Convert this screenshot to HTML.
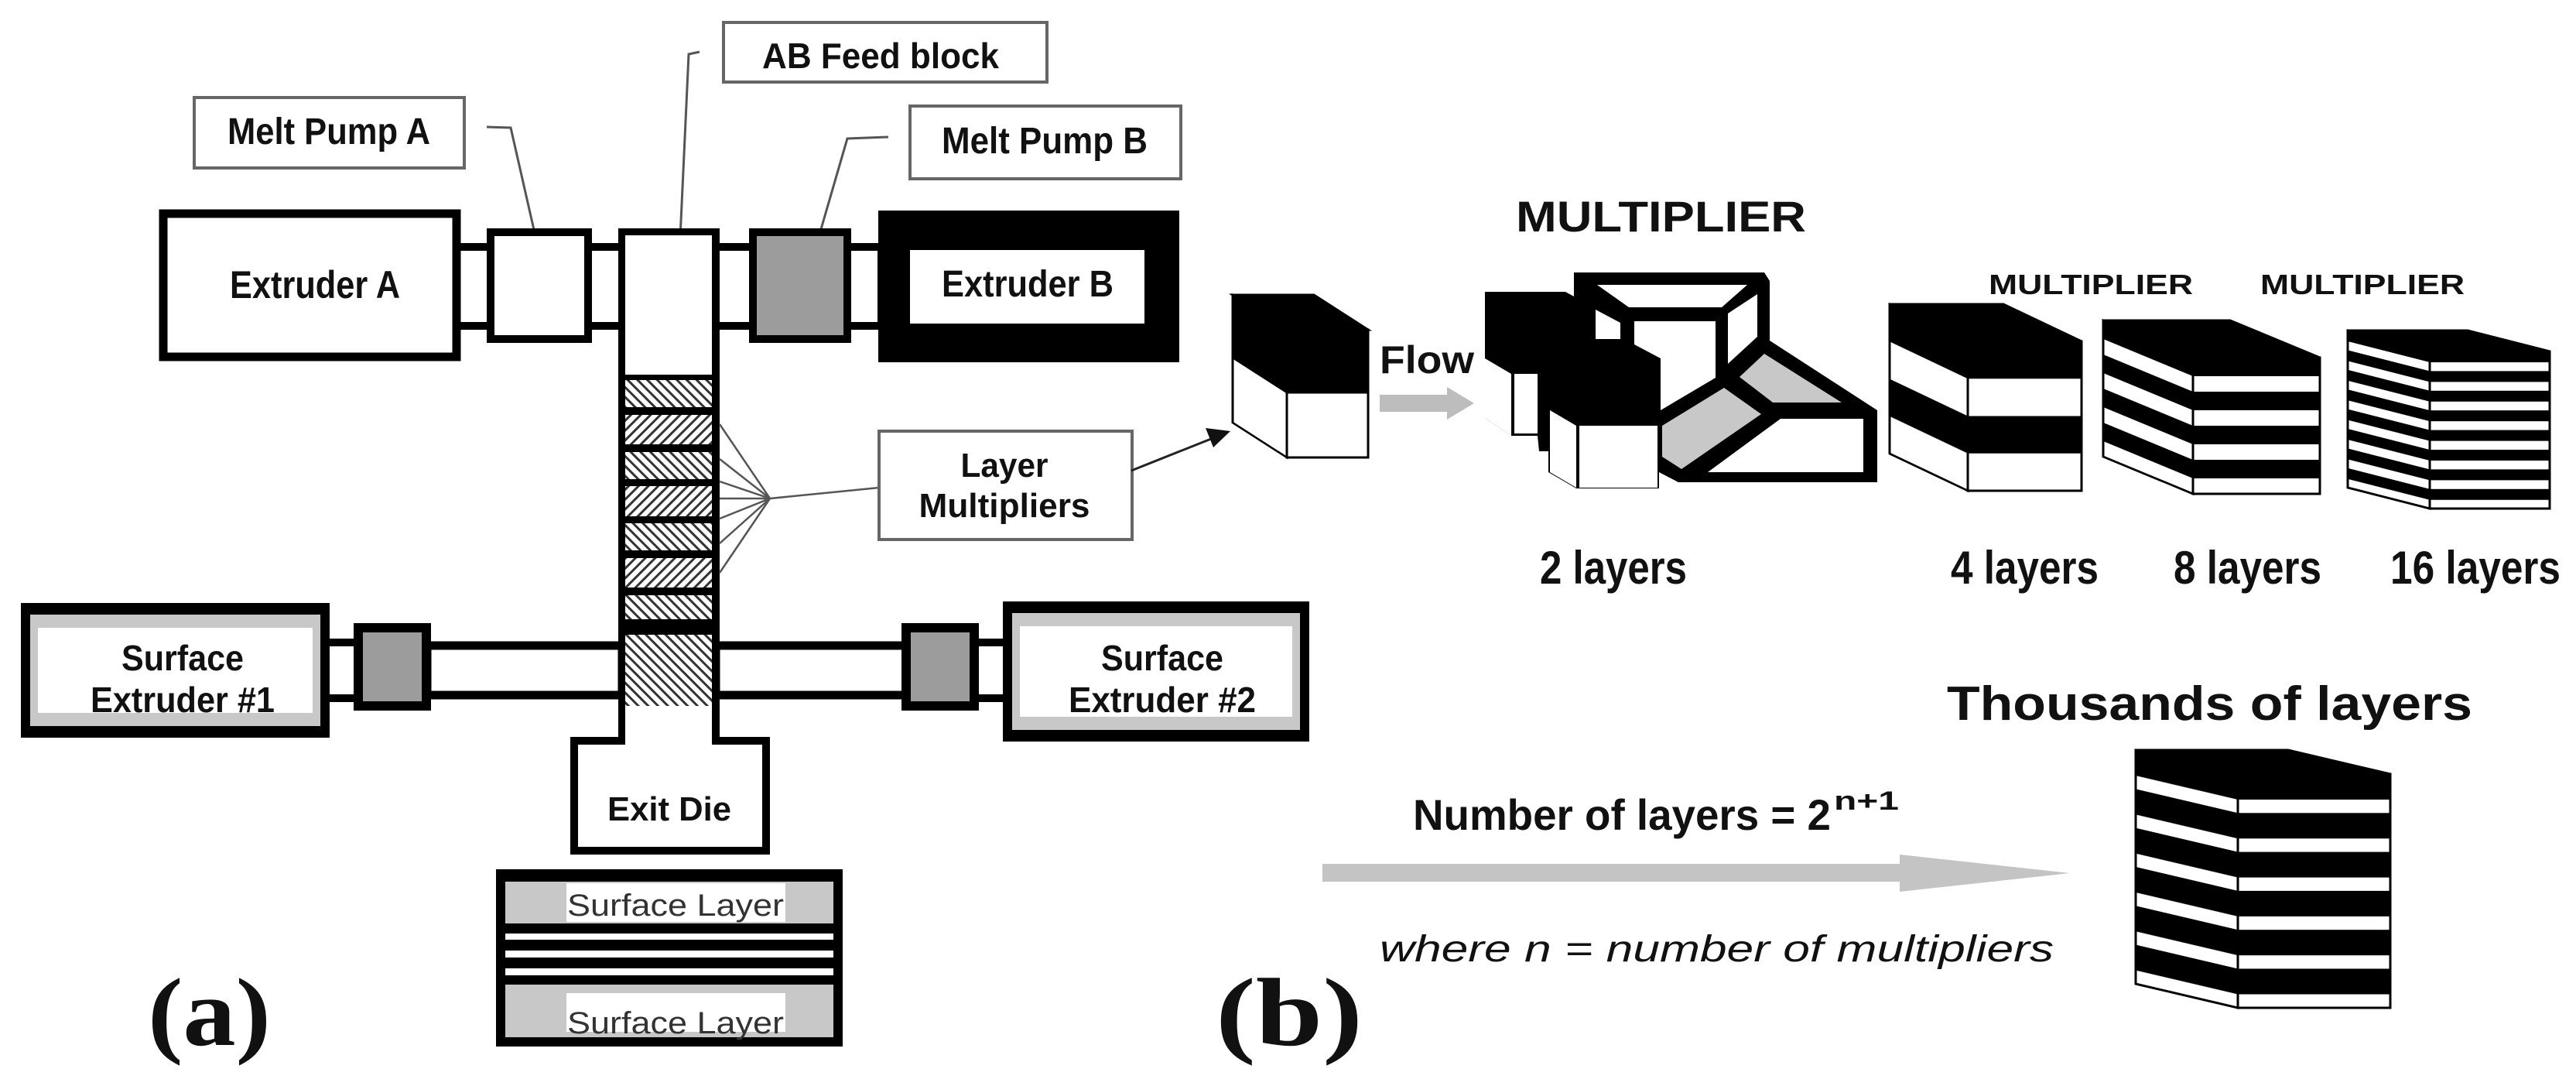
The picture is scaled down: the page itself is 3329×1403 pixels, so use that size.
<!DOCTYPE html>
<html><head><meta charset="utf-8"><style>
html,body{margin:0;padding:0;background:#fff;}
svg{display:block;}
text{font-family:"Liberation Sans",sans-serif;font-weight:bold;fill:#111;}
</style></head><body>
<svg width="3329" height="1403" viewBox="0 0 3329 1403" xmlns="http://www.w3.org/2000/svg">
<defs>
<pattern id="h1" width="9" height="9" patternUnits="userSpaceOnUse" patternTransform="rotate(45)"><rect width="9" height="9" fill="#fff"/><rect width="3" height="9" fill="#333"/></pattern>
<pattern id="h2" width="9" height="9" patternUnits="userSpaceOnUse" patternTransform="rotate(-45)"><rect width="9" height="9" fill="#fff"/><rect width="3" height="9" fill="#333"/></pattern>
<pattern id="c1" width="400" height="165" patternUnits="userSpaceOnUse"><rect width="400" height="165" fill="#fff"/><rect width="400" height="82.5" fill="#000"/></pattern>
<pattern id="c4" width="400" height="96.5" patternUnits="userSpaceOnUse"><rect width="400" height="96.5" fill="#fff"/><rect width="400" height="48.25" fill="#000"/></pattern>
<pattern id="c8" width="400" height="44" patternUnits="userSpaceOnUse"><rect width="400" height="44" fill="#fff"/><rect width="400" height="24" fill="#000"/></pattern>
<pattern id="c16" width="400" height="25.4" patternUnits="userSpaceOnUse"><rect width="400" height="25.4" fill="#fff"/><rect width="400" height="14" fill="#000"/></pattern>
<pattern id="cb" width="400" height="50.3" patternUnits="userSpaceOnUse"><rect width="400" height="50.3" fill="#fff"/><rect width="400" height="33" fill="#000"/></pattern>
</defs>

<rect x="251" y="126" width="349" height="91" fill="#fff" stroke="#666" stroke-width="4"/>
<text x="425" y="186" font-size="48" text-anchor="middle" textLength="262" lengthAdjust="spacingAndGlyphs">Melt Pump A</text>
<rect x="935" y="29" width="418" height="77" fill="#fff" stroke="#666" stroke-width="4"/>
<text x="1138" y="88" font-size="46" text-anchor="middle" textLength="306" lengthAdjust="spacingAndGlyphs">AB Feed block</text>
<rect x="1176" y="137" width="350" height="94" fill="#fff" stroke="#666" stroke-width="4"/>
<text x="1350" y="198" font-size="48" text-anchor="middle" textLength="266" lengthAdjust="spacingAndGlyphs">Melt Pump B</text>
<polyline points="629,164 660,165 698,332" fill="none" stroke="#555" stroke-width="3"/>
<polyline points="904,67 890,70 873,437" fill="none" stroke="#555" stroke-width="3"/>
<polyline points="1148,177 1095,179 1045,351" fill="none" stroke="#555" stroke-width="3"/>

<rect x="590" y="319" width="44" height="102" fill="#fff" stroke="#000" stroke-width="10"/>
<rect x="760" y="319" width="44" height="102" fill="#fff" stroke="#000" stroke-width="10"/>
<rect x="925" y="319" width="48" height="102" fill="#fff" stroke="#000" stroke-width="10"/>
<rect x="1095" y="319" width="44" height="102" fill="#fff" stroke="#000" stroke-width="10"/>
<rect x="211" y="276" width="379" height="185" fill="#fff" stroke="#000" stroke-width="11"/>
<text x="407" y="385" font-size="50" text-anchor="middle" textLength="220" lengthAdjust="spacingAndGlyphs">Extruder A</text>
<rect x="634" y="300" width="126" height="138" fill="#fff" stroke="#000" stroke-width="10"/>
<rect x="973" y="300" width="122" height="138" fill="#9c9c9c" stroke="#000" stroke-width="10"/>
<rect x="1135" y="272" width="389" height="196" fill="#000"/>
<rect x="1176" y="323" width="303" height="95" fill="#fff"/>
<text x="1328" y="383" font-size="48" text-anchor="middle" textLength="222" lengthAdjust="spacingAndGlyphs">Extruder B</text>

<rect x="799" y="295" width="131" height="623" fill="#000"/>
<rect x="808" y="304" width="112" height="180" fill="#fff"/>
<rect x="808" y="491" width="112" height="35" fill="url(#h2)"/>
<rect x="808" y="536" width="112" height="38" fill="url(#h1)"/>
<rect x="808" y="584" width="112" height="35" fill="url(#h2)"/>
<rect x="808" y="628" width="112" height="39" fill="url(#h1)"/>
<rect x="808" y="676" width="112" height="35" fill="url(#h2)"/>
<rect x="808" y="721" width="112" height="38" fill="url(#h1)"/>
<rect x="808" y="769" width="112" height="41" fill="url(#h2)"/>

<g stroke="#555" stroke-width="2.5">
<line x1="995" y1="644" x2="930" y2="548"/>
<line x1="995" y1="644" x2="930" y2="593"/>
<line x1="995" y1="644" x2="930" y2="622"/>
<line x1="995" y1="644" x2="930" y2="644"/>
<line x1="995" y1="644" x2="930" y2="670"/>
<line x1="995" y1="644" x2="930" y2="702"/>
<line x1="995" y1="644" x2="930" y2="740"/>
<line x1="995" y1="644" x2="1136" y2="630"/>
</g>
<rect x="1136" y="557" width="327" height="140" fill="#fff" stroke="#666" stroke-width="4"/>
<text x="1298" y="616" font-size="44" text-anchor="middle" textLength="113" lengthAdjust="spacingAndGlyphs">Layer</text>
<text x="1298" y="668" font-size="44" text-anchor="middle" textLength="221" lengthAdjust="spacingAndGlyphs">Multipliers</text>
<line x1="1462" y1="608" x2="1565" y2="567" stroke="#222" stroke-width="3"/>
<polygon points="1590,557 1558,553 1568,578" fill="#111"/>

<rect x="420" y="830" width="42" height="72" fill="#fff" stroke="#000" stroke-width="10"/>
<rect x="552" y="834" width="252" height="64" fill="#fff" stroke="#000" stroke-width="11"/>
<rect x="925" y="834" width="247" height="64" fill="#fff" stroke="#000" stroke-width="11"/>
<rect x="1260" y="830" width="42" height="72" fill="#fff" stroke="#000" stroke-width="10"/>
<rect x="799" y="800" width="131" height="118" fill="#000"/>
<rect x="808" y="820" width="112" height="92" fill="url(#h2)"/>
<rect x="463" y="811" width="88" height="101" fill="#9c9c9c" stroke="#000" stroke-width="12"/>
<rect x="1171" y="811" width="88" height="101" fill="#9c9c9c" stroke="#000" stroke-width="12"/>
<rect x="27" y="779" width="399" height="174" fill="#000"/>
<rect x="39" y="794" width="375" height="144" fill="#c8c8c8"/>
<rect x="49" y="811" width="355" height="110" fill="#fff"/>
<text x="236" y="866" font-size="46" text-anchor="middle" textLength="158" lengthAdjust="spacingAndGlyphs">Surface</text>
<text x="236" y="920" font-size="46" text-anchor="middle" textLength="238" lengthAdjust="spacingAndGlyphs">Extruder #1</text>
<rect x="1296" y="777" width="396" height="181" fill="#000"/>
<rect x="1308" y="792" width="372" height="151" fill="#c8c8c8"/>
<rect x="1318" y="809" width="352" height="117" fill="#fff"/>
<text x="1502" y="866" font-size="46" text-anchor="middle" textLength="158" lengthAdjust="spacingAndGlyphs">Surface</text>
<text x="1502" y="920" font-size="46" text-anchor="middle" textLength="242" lengthAdjust="spacingAndGlyphs">Extruder #2</text>

<rect x="737" y="952" width="258" height="152" fill="#000"/>
<rect x="747" y="962" width="238" height="132" fill="#fff"/>
<rect x="799" y="912" width="131" height="50" fill="#000"/>
<rect x="808" y="912" width="112" height="60" fill="#fff"/>
<text x="865" y="1060" font-size="44" text-anchor="middle" textLength="160" lengthAdjust="spacingAndGlyphs">Exit Die</text>

<rect x="641" y="1123" width="448" height="229" fill="#000"/>
<rect x="653" y="1139" width="424" height="54" fill="#c8c8c8"/>
<rect x="732" y="1141" width="283" height="50" fill="#fff"/>
<rect x="653" y="1206" width="424" height="8" fill="#fff"/>
<rect x="653" y="1228" width="424" height="9" fill="#fff"/>
<rect x="653" y="1251" width="424" height="9" fill="#fff"/>
<rect x="653" y="1272" width="424" height="68" fill="#c8c8c8"/>
<rect x="732" y="1283" width="283" height="50" fill="#fff"/>
<text x="873" y="1183" font-size="40" text-anchor="middle" textLength="280" lengthAdjust="spacingAndGlyphs" style="font-weight:normal;fill:#333">Surface Layer</text>
<text x="873" y="1335" font-size="40" text-anchor="middle" textLength="280" lengthAdjust="spacingAndGlyphs" style="font-weight:normal;fill:#333">Surface Layer</text>

<text x="191" y="1350" font-size="125" textLength="159" lengthAdjust="spacingAndGlyphs" style="font-family:'Liberation Serif',serif">(a)</text>
<text x="1571" y="1350" font-size="125" textLength="190" lengthAdjust="spacingAndGlyphs" style="font-family:'Liberation Serif',serif">(b)</text>

<g transform="translate(1663,426)" stroke="#000" stroke-width="3">
<polygon points="0,0 105,0 35,-45 -70,-45" fill="#000"/>
<g transform="skewY(32.7)"><rect x="-70" y="0" width="70" height="165" fill="url(#c1)"/></g>
<rect x="0" y="0" width="105" height="165" fill="url(#c1)"/>
</g>
<text x="1783" y="482" font-size="50" textLength="122" lengthAdjust="spacingAndGlyphs">Flow</text>
<polygon points="1783,510 1870,510 1870,500 1905,521 1870,542 1870,532 1783,532" fill="#bdbdbd"/>
<text x="1959" y="299" font-size="56" textLength="375" lengthAdjust="spacingAndGlyphs">MULTIPLIER</text>

<polygon points="1919,377 2023,377 2034,383 2034,352 2280,352 2287,363 2287,440 2426,530 2426,623 2169,623 2144,610 2144,631 2037,631 2001,610 2001,583 1989,583 1987,563 1953,563 1919,540" fill="#000"/>
<g fill="#fff">
<polygon points="1919,463 1953,483 1953,563 1919,540"/>
<polygon points="1957,483 1987,483 1987,560 1957,560"/>
<polygon points="2003,530 2037,550 2037,630 2003,610"/>
<polygon points="2041,550 2142,550 2142,630 2041,630"/>
<polygon points="2064,368 2258,368 2225,397 2105,397"/>
<polygon points="2062,400 2094,417 2094,438 2062,438"/>
<polygon points="2112,415 2217,415 2217,488 2146,530 2146,463 2112,445"/>
<polygon points="2233,405 2271,380 2271,435 2233,470"/>
<polygon points="2301,541 2408,541 2408,610 2207,610"/>
</g>
<g fill="#c8c8c8">
<polygon points="2248,487 2280,457 2380,520 2291,520"/>
<polygon points="2148,550 2228,501 2276,535 2173,606 2148,590"/>
</g>

<text x="2570" y="380" font-size="36" textLength="264" lengthAdjust="spacingAndGlyphs">MULTIPLIER</text>
<text x="2921" y="380" font-size="36" textLength="264" lengthAdjust="spacingAndGlyphs">MULTIPLIER</text>

<g transform="translate(2543,441)" stroke="#000" stroke-width="3">
<polygon points="0,0 147,0 46,-48 -101,-48" fill="#000"/>
<g transform="skewY(25.4)"><rect x="-101" y="0" width="101" height="193" fill="url(#c4)"/></g>
<rect x="0" y="0" width="147" height="193" fill="url(#c4)"/>
</g>
<g transform="translate(2834,462)" stroke="#000" stroke-width="3">
<polygon points="0,0 164,0 48,-48 -116,-48" fill="#000"/>
<g transform="skewY(22.5)"><rect x="-116" y="0" width="116" height="176" fill="url(#c8)"/></g>
<rect x="0" y="0" width="164" height="176" fill="url(#c8)"/>
</g>
<g transform="translate(3140,454)" stroke="#000" stroke-width="3">
<polygon points="0,0 155,0 49,-27 -106,-27" fill="#000"/>
<g transform="skewY(14.3)"><rect x="-106" y="0" width="106" height="203" fill="url(#c16)"/></g>
<rect x="0" y="0" width="155" height="203" fill="url(#c16)"/>
</g>

<text x="1990" y="754" font-size="60" textLength="190" lengthAdjust="spacingAndGlyphs">2 layers</text>
<text x="2521" y="754" font-size="60" textLength="191" lengthAdjust="spacingAndGlyphs">4 layers</text>
<text x="2809" y="754" font-size="60" textLength="191" lengthAdjust="spacingAndGlyphs">8 layers</text>
<text x="3089" y="754" font-size="60" textLength="220" lengthAdjust="spacingAndGlyphs">16 layers</text>

<text x="2516" y="930" font-size="62" textLength="679" lengthAdjust="spacingAndGlyphs">Thousands of layers</text>
<g transform="translate(2892,1000)" stroke="#000" stroke-width="3">
<polygon points="0,0 197,0 65,-31 -132,-31" fill="#000"/>
<g transform="skewY(13.2)"><rect x="-132" y="0" width="132" height="302" fill="url(#cb)"/></g>
<rect x="0" y="0" width="197" height="302" fill="url(#cb)"/>
</g>

<polygon points="1709,1116 2455,1116 2455,1104 2675,1128 2455,1152 2455,1139 1709,1139" fill="#c4c4c4"/>
<text x="1826" y="1072" font-size="56" textLength="540" lengthAdjust="spacingAndGlyphs">Number of layers = 2</text>
<text x="2370" y="1046" font-size="34" textLength="84" lengthAdjust="spacingAndGlyphs">n+1</text>
<text x="1783" y="1242" font-size="48" textLength="871" lengthAdjust="spacingAndGlyphs" style="font-style:italic;font-weight:normal">where n = number of multipliers</text>
</svg>
</body></html>
